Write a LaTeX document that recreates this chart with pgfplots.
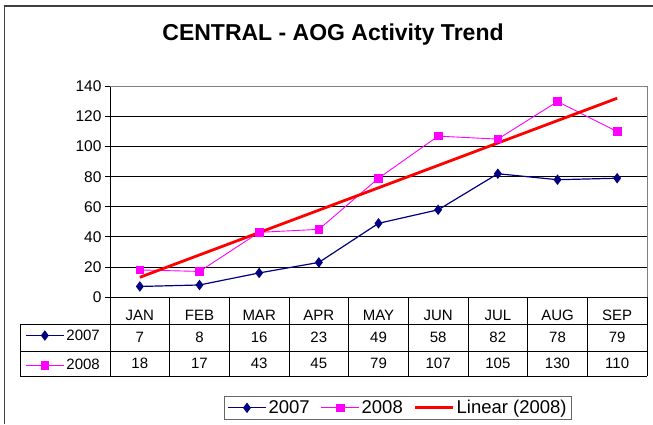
\documentclass[border=0pt]{standalone}
\usepackage{pgfplots}
\pgfplotsset{compat=1.18}
\usepackage{pgfplotstable}
\usepackage{fontspec}
\setmainfont{Liberation Sans}
\definecolor{navy}{RGB}{0,0,128}
\definecolor{mag}{RGB}{255,0,255}
\definecolor{trend}{RGB}{255,0,0}
\pgfplotstableread{
x m y2007 y2008
1 JAN 7 18
2 FEB 8 17
3 MAR 16 43
4 APR 23 45
5 MAY 49 79
6 JUN 58 107
7 JUL 82 105
8 AUG 78 130
9 SEP 79 110
}\data
\newcommand{\tabfont}{\fontsize{15}{18}\selectfont}
\newcommand{\legfont}{\fontsize{18.5}{22}\selectfont}
\pgfplotsset{
  longkey/.style={legend image code/.code={%
    \draw[mark repeat=2,mark phase=2,##1] plot coordinates {(0pt,0pt) (19pt,0pt) (38pt,0pt)};}},
}
\begin{document}
\begin{tikzpicture}[x=1pt,y=1pt]
\useasboundingbox (0,0) rectangle (653,424);
\draw[line width=1.5pt, black!75] (4.5,0) -- (4.5,418) -- (660,418);
\node[font=\fontsize{23}{27}\selectfont\bfseries] at (333,389) {CENTRAL - AOG Activity Trend};
\begin{axis}[
  at={(110pt,127pt)}, anchor=south west, scale only axis,
  width=537pt, height=210.5pt,
  xmin=0.5, xmax=9.5, ymin=0, ymax=140,
  ytick={0,20,...,140},
  xtick={1,...,9}, xticklabels from table={\data}{m},
  xtick style={draw=none},
  ytick pos=left, tick align=outside, major tick length=5pt,
  ytick style={black, line width=0.8pt},
  ymajorgrids, grid style={black, line width=0.8pt},
  axis line style={black!50, line width=0.8pt},
  tick label style={font=\tabfont},
  yticklabel style={font=\fontsize{15.5}{18}\selectfont},
  xticklabel style={anchor=center, yshift=-13.5pt},
  /pgf/number format/assume math mode=true,
  clip=false,
  longkey,
  legend columns=3,
  legend style={at={(0.2123,-0.4703)}, anchor=north west, draw=black!60,
    font=\legfont, line width=0.8pt, inner xsep=3pt,
    /tikz/every even column/.append style={column sep=9pt}},
]
\addplot[navy, line width=1.2pt, mark=diamond*, mark size=4.3pt] table[x=x,y=y2007]{\data};
\addlegendentry{2007}
\addplot[mag, line width=0.9pt, mark=square*, mark size=3.8pt] table[x=x,y=y2008]{\data};
\addlegendentry{2008}
\addplot[trend, line width=2.8pt] coordinates {(1,13.1) (9,132.2)};
\addlegendentry{Linear (2008)}
\addplot[draw=none, mark=none, forget plot, nodes near coords, point meta=explicit,
  nodes near coords style={anchor=center, font=\tabfont, black}]
  table[x=x, y expr=-26.94, meta=y2007]{\data};
\addplot[draw=none, mark=none, forget plot, nodes near coords, point meta=explicit,
  nodes near coords style={anchor=center, font=\tabfont, black}]
  table[x=x, y expr=-44.2, meta=y2008]{\data};
\draw[black, line width=0.8pt] (rel axis cs:0,0) -- (rel axis cs:0,1);
\draw[black, line width=0.8pt] (rel axis cs:0,0) -- (rel axis cs:1,0);
\end{axis}
% table grid
\foreach \k in {0,...,9} {
  \draw[black, line width=0.8pt] ({110+537*\k/9},127) -- ({110+537*\k/9},48);
}
\foreach \yy in {100,73,48} {
  \draw[black, line width=0.8pt] (20,\yy) -- (647,\yy);
}
\draw[black, line width=0.8pt] (20,100) -- (20,48);
\begin{axis}[
  at={(0pt,0pt)}, anchor=south west, scale only axis,
  width=653pt, height=424pt, hide axis,
  xmin=0, xmax=653, ymin=0, ymax=424,
  longkey,
  legend style={at={(0.0368,0.1733)}, anchor=west, draw=none, fill=none,
    font=\tabfont, inner xsep=1pt, row sep=14pt},
]
\addlegendimage{navy, line width=1.2pt, mark=diamond*, mark size=4.3pt}
\addlegendentry{2007}
\addlegendimage{mag, line width=0.9pt, mark=square*, mark size=3.8pt}
\addlegendentry{2008}
\end{axis}
\end{tikzpicture}
\end{document}
